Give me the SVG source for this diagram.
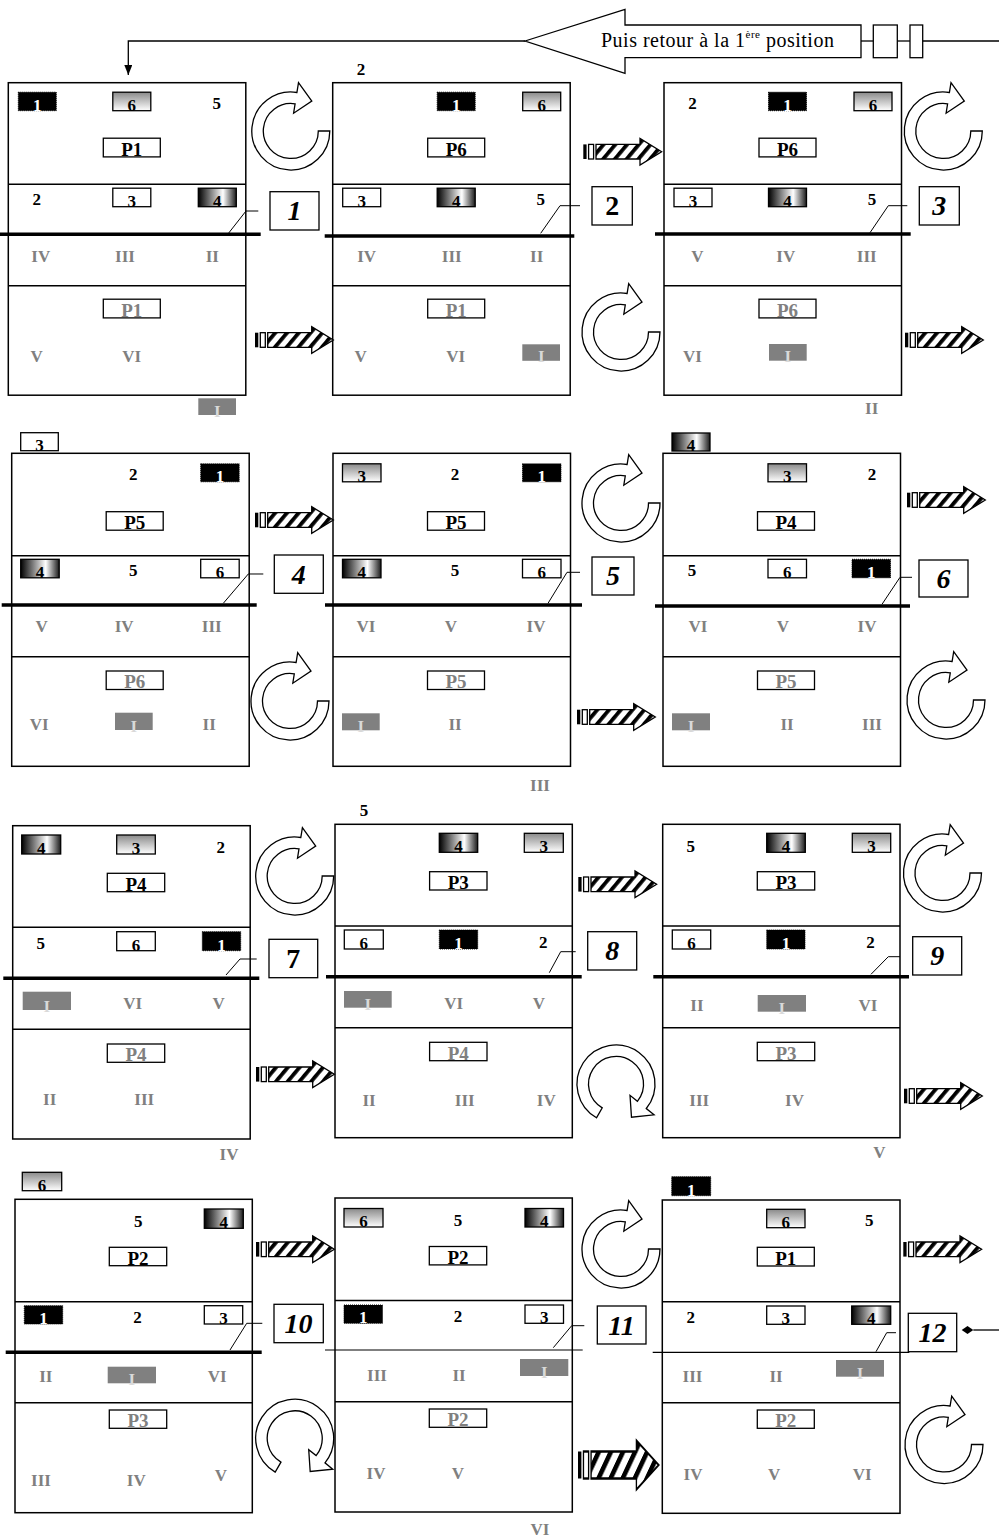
<svg xmlns="http://www.w3.org/2000/svg" width="999" height="1539" viewBox="0 0 999 1539">
<defs>
<linearGradient id="gv" x1="0" y1="0" x2="0" y2="1"><stop offset="0" stop-color="#8a8a8a"/><stop offset="1" stop-color="#fff"/></linearGradient>
<linearGradient id="gh" x1="0" y1="0" x2="1" y2="0"><stop offset="0" stop-color="#000"/><stop offset="0.65" stop-color="#fff"/><stop offset="1" stop-color="#1a1a1a"/></linearGradient>
<pattern id="hatch" patternUnits="userSpaceOnUse" width="9" height="9" patternTransform="rotate(40)"><rect width="9" height="9" fill="#fff"/><rect width="3.8" height="9" fill="#000"/></pattern>
<marker id="ah" markerWidth="10" markerHeight="10" refX="10" refY="4" orient="auto" markerUnits="userSpaceOnUse"><path d="M0,0 L10,4 L0,8 Z" fill="#000"/></marker>
<g id="ha">
<rect x="0" y="-7.3" width="3.3" height="14.6" fill="#000"/>
<rect x="5.3" y="-7.3" width="5" height="14.6" fill="#fff" stroke="#000" stroke-width="1.3"/>
<polygon points="12.7,-7.3 56.7,-7.3 56.7,-13.3 78.3,0 56.7,13.3 56.7,7.3 12.7,7.3" fill="url(#hatch)" stroke="#000" stroke-width="1.3"/>
</g>
<path id="rot" d="M39,0 A39,39 0 1 1 6.1,-38.5 L7.7,-48.4 L21,-30 L2.8,-17.8 L4.3,-27.2 A27.5,27.5 0 1 0 27.5,0 Z" fill="#fff" stroke="#000" stroke-width="1.3"/>
</defs>
<style>
.pn{fill:none;stroke:#000;stroke-width:1.5}
.dv{stroke:#000;stroke-width:1.5}
.th{stroke:#000;stroke-width:3.5}
.tn{stroke:#000;stroke-width:1.2}
.ld{fill:none;stroke:#000;stroke-width:1}
.cb{fill:#fff;stroke:#000;stroke-width:1.3}
.cn{font-family:"Liberation Serif","Times New Roman",serif;font-size:28px;font-style:italic;font-weight:bold;text-anchor:middle;fill:#000}
.cu{font-style:normal}
.bw{fill:#fff;stroke:#000;stroke-width:1.3}
.bk{fill:#000;stroke:#000;stroke-width:1;stroke-dasharray:1 1}
.bv{fill:url(#gv);stroke:#000;stroke-width:1.3}
.bh{fill:url(#gh);stroke:#000;stroke-width:1.3}
.bg{fill:#808080}
.t{font-family:"Liberation Serif","Times New Roman",serif;font-weight:bold;font-size:17px;text-anchor:middle;fill:#000}
.d{font-size:17px}
.p{font-size:19px}
.r{font-size:17px;fill:#808080}
.tg{fill:#808080}
.tw{fill:#fff}
.tl{fill:#d9d9d9;font-size:17px}
</style>
<rect width="999" height="1539" fill="#fff"/>

<g id="return-note">
<polygon points="525,41 625,9.3 625,25 861,25 861,57.7 625,57.7 625,73.3" fill="#fff" stroke="#000" stroke-width="1.3"/>
<text x="601" y="47" font-family="Liberation Serif, Times New Roman, serif" font-size="20" letter-spacing="0.5" fill="#000">Puis retour à la 1<tspan font-size="11" dy="-9">ère</tspan><tspan dy="9"> position</tspan></text>
</g>

<!-- Panel 1 -->
<g id="p1" transform="translate(8.3,82.7)">
<rect class="pn" width="237.5" height="312.5"/>
<line class="dv" x1="0" y1="101.5" x2="237.5" y2="101.5"/>
<line class="dv" x1="0" y1="203" x2="237.5" y2="203"/>
<rect class="bk" x="10" y="9.5" width="38" height="18.5"/><text class="t d tw" x="29" y="28">1</text>
<rect class="bv" x="104.5" y="9.5" width="38" height="18.5"/><text class="t d" x="123.5" y="28">6</text>
<text class="t" x="208.5" y="26.5">5</text>
<rect class="bw" x="95" y="55.5" width="57" height="18.7"/><text class="t p" x="123.5" y="73.2">P1</text>
<text class="t" x="28.5" y="122.5">2</text>
<rect class="bw" x="104.5" y="105.5" width="38" height="18.5"/><text class="t d" x="123.5" y="124">3</text>
<rect class="bh" x="190" y="105.5" width="38" height="18.5"/><text class="t d" x="209" y="124">4</text>
<line class="th" x1="-8.3" y1="151.6" x2="252.4" y2="151.6"/>
<text class="t r" x="32.5" y="179">IV</text><text class="t r" x="116.7" y="179">III</text><text class="t r" x="204" y="179">II</text>
<rect class="bw" x="95" y="216.5" width="57" height="18.7"/><text class="t p tg" x="123.5" y="234.2">P1</text>
<text class="t r" x="28.4" y="279">V</text><text class="t r" x="123.4" y="279">VI</text>
<polyline class="ld" points="219.4,151.6 237.7,128.3 250,128.3"/>
<rect class="cb" x="261.7" y="109" width="49" height="38.3"/><text class="cn" x="286.2" y="137.5">1</text>
</g>

<!-- Panel 2 -->
<g id="p2" transform="translate(332.7,82.7)">
<rect class="pn" width="237.5" height="312.5"/>
<line class="dv" x1="0" y1="101.5" x2="237.5" y2="101.5"/>
<line class="dv" x1="0" y1="203" x2="237.5" y2="203"/>
<rect class="bk" x="104.5" y="9.5" width="38" height="18.5"/><text class="t d tw" x="123.5" y="28">1</text>
<rect class="bv" x="190" y="9.5" width="38" height="18.5"/><text class="t d" x="209" y="28">6</text>
<rect class="bw" x="95" y="55.5" width="57" height="18.7"/><text class="t p" x="123.5" y="73.2">P6</text>
<rect class="bw" x="10" y="105.5" width="38" height="18.5"/><text class="t d" x="29" y="124">3</text>
<rect class="bh" x="104.5" y="105.5" width="38" height="18.5"/><text class="t d" x="123.5" y="124">4</text>
<text class="t" x="208" y="122.5">5</text>
<line class="th" x1="-8" y1="153.3" x2="241.6" y2="153.3"/>
<text class="t r" x="34" y="179">IV</text><text class="t r" x="119" y="179">III</text><text class="t r" x="204" y="179">II</text>
<rect class="bw" x="95" y="216.5" width="57" height="18.7"/><text class="t p tg" x="123.5" y="234.2">P1</text>
<text class="t r" x="28" y="279">V</text><text class="t r" x="123" y="279">VI</text>
<rect class="bg" x="189.6" y="261.6" width="37.7" height="16.5"/><text class="t tl" x="208.5" y="279.5">I</text>
<polyline class="ld" points="208,150.6 227.3,123 247.3,123"/>
<rect class="cb" x="259.3" y="104" width="40.3" height="38.3"/><text class="cn cu" x="279.5" y="132.5">2</text>
</g>

<!-- Panel 3 -->
<g id="p3" transform="translate(664,82.7)">
<rect class="pn" width="237.5" height="312.5"/>
<line class="dv" x1="0" y1="101.5" x2="237.5" y2="101.5"/>
<line class="dv" x1="0" y1="203" x2="237.5" y2="203"/>
<text class="t" x="28.5" y="26.5">2</text>
<rect class="bk" x="104.5" y="9.5" width="38" height="18.5"/><text class="t d tw" x="123.5" y="28">1</text>
<rect class="bv" x="190" y="9.5" width="38" height="18.5"/><text class="t d" x="209" y="28">6</text>
<rect class="bw" x="95" y="55.5" width="57" height="18.7"/><text class="t p" x="123.5" y="73.2">P6</text>
<rect class="bw" x="10" y="105.5" width="38" height="18.5"/><text class="t d" x="29" y="124">3</text>
<rect class="bh" x="104.5" y="105.5" width="38" height="18.5"/><text class="t d" x="123.5" y="124">4</text>
<text class="t" x="208" y="122.5">5</text>
<line class="th" x1="-9" y1="151.3" x2="246.7" y2="151.3"/>
<text class="t r" x="33.5" y="179">V</text><text class="t r" x="121.8" y="179">IV</text><text class="t r" x="202.7" y="179">III</text>
<rect class="bw" x="95" y="216.5" width="57" height="18.7"/><text class="t p tg" x="123.5" y="234.2">P6</text>
<text class="t r" x="28.5" y="279">VI</text>
<rect class="bg" x="105" y="261.3" width="37.7" height="16.7"/><text class="t tl" x="123.8" y="279.5">I</text>
<polyline class="ld" points="206,150 224.3,123 243.3,123"/>
<rect class="cb" x="255.3" y="104" width="40" height="38.3"/><text class="cn" x="275.3" y="132.5">3</text>
</g>

<!-- Panel 4 -->
<g id="p4" transform="translate(11.7,453.3)">
<rect class="pn" width="237.5" height="313"/>
<line class="dv" x1="0" y1="102.4" x2="237.5" y2="102.4"/>
<line class="dv" x1="0" y1="203.4" x2="237.5" y2="203.4"/>
<text class="t" x="121.6" y="26.7">2</text>
<rect class="bk" x="189" y="10.5" width="38.5" height="18"/><text class="t d tw" x="208.2" y="28.5">1</text>
<rect class="bw" x="94.5" y="58.4" width="57" height="18.5"/><text class="t p" x="123" y="75.9">P5</text>
<rect class="bh" x="9" y="106" width="38.5" height="18.5"/><text class="t d" x="28.2" y="124.5">4</text>
<text class="t" x="121.6" y="123">5</text>
<rect class="bw" x="189" y="106" width="38.5" height="18.5"/><text class="t d" x="208.2" y="124.5">6</text>
<line class="th" x1="-10" y1="151.7" x2="245" y2="151.7"/>
<text class="t r" x="30" y="179">V</text><text class="t r" x="112.5" y="179">IV</text><text class="t r" x="200" y="179">III</text>
<rect class="bw" x="94.5" y="217.7" width="57" height="18.5"/><text class="t p tg" x="123" y="235.2">P6</text>
<text class="t r" x="27.5" y="276.7">VI</text>
<rect class="bg" x="103.3" y="259.4" width="37.7" height="17.3"/><text class="t tl" x="122.2" y="278.5">I</text>
<text class="t r" x="197.5" y="276.7">II</text>
<polyline class="ld" points="211.6,150 236.6,120.7 251.6,120.7"/>
<rect class="cb" x="262.6" y="101.7" width="49" height="38.3"/><text class="cn" x="287.1" y="130.3">4</text>
</g>

<!-- Panel 5 -->
<g id="p5" transform="translate(333,453.3)">
<rect class="pn" width="237.5" height="313"/>
<line class="dv" x1="0" y1="102.4" x2="237.5" y2="102.4"/>
<line class="dv" x1="0" y1="203.4" x2="237.5" y2="203.4"/>
<rect class="bv" x="9.5" y="10.5" width="38.5" height="18"/><text class="t d" x="28.7" y="28.5">3</text>
<text class="t" x="122" y="26.7">2</text>
<rect class="bk" x="189.5" y="10.5" width="38.5" height="18"/><text class="t d tw" x="208.7" y="28.5">1</text>
<rect class="bw" x="94.5" y="58.4" width="57" height="18.5"/><text class="t p" x="123" y="75.9">P5</text>
<rect class="bh" x="9.5" y="106" width="38.5" height="18.5"/><text class="t d" x="28.7" y="124.5">4</text>
<text class="t" x="122" y="123">5</text>
<rect class="bw" x="189.5" y="106" width="38.5" height="18.5"/><text class="t d" x="208.7" y="124.5">6</text>
<line class="th" x1="-8" y1="151.7" x2="249" y2="151.7"/>
<text class="t r" x="33" y="179">VI</text><text class="t r" x="118" y="179">V</text><text class="t r" x="203" y="179">IV</text>
<rect class="bw" x="94.5" y="217.7" width="57" height="18.5"/><text class="t p tg" x="123" y="235.2">P5</text>
<rect class="bg" x="9" y="260" width="37.7" height="17"/><text class="t tl" x="27.9" y="279">I</text>
<text class="t r" x="122" y="277">II</text>
<polyline class="ld" points="215,150 234,119 247,119"/>
<rect class="cb" x="259" y="103.7" width="42" height="38"/><text class="cn" x="280" y="132.2">5</text>
</g>

<!-- Panel 6 -->
<g id="p6" transform="translate(663,453.3)">
<rect class="pn" width="237.5" height="313"/>
<line class="dv" x1="0" y1="102.4" x2="237.5" y2="102.4"/>
<line class="dv" x1="0" y1="203.4" x2="237.5" y2="203.4"/>
<rect class="bv" x="105" y="10.5" width="38.5" height="18"/><text class="t d" x="124.2" y="28.5">3</text>
<text class="t" x="209" y="26.7">2</text>
<rect class="bw" x="94.5" y="58.4" width="57" height="18.5"/><text class="t p" x="123" y="75.9">P4</text>
<text class="t" x="29" y="123">5</text>
<rect class="bw" x="105" y="106" width="38.5" height="18.5"/><text class="t d" x="124.2" y="124.5">6</text>
<rect class="bk" x="189" y="106" width="38.5" height="18.5"/><text class="t d tw" x="208.2" y="124.5">1</text>
<line class="th" x1="-8" y1="152.7" x2="247" y2="152.7"/>
<text class="t r" x="35" y="179">VI</text><text class="t r" x="120" y="179">V</text><text class="t r" x="204" y="179">IV</text>
<rect class="bw" x="94.5" y="217.7" width="57" height="18.5"/><text class="t p tg" x="123" y="235.2">P5</text>
<rect class="bg" x="9" y="260" width="38" height="17"/><text class="t tl" x="28" y="279">I</text>
<text class="t r" x="124" y="277">II</text><text class="t r" x="209" y="277">III</text>
<polyline class="ld" points="219,151 237,124 249,124"/>
<rect class="cb" x="256" y="106.7" width="49" height="37"/><text class="cn" x="280.5" y="134.7">6</text>
</g>

<!-- Panel 7 -->
<g id="p7" transform="translate(12.7,825.7)">
<rect class="pn" width="237.5" height="313.3"/>
<line class="dv" x1="0" y1="101.6" x2="237.5" y2="101.6"/>
<line class="dv" x1="0" y1="203.6" x2="237.5" y2="203.6"/>
<rect class="bh" x="9" y="9.3" width="39" height="19"/><text class="t d" x="28.5" y="28.3">4</text>
<rect class="bv" x="104" y="9.3" width="38.6" height="19"/><text class="t d" x="123.3" y="28.3">3</text>
<text class="t" x="208" y="27.6">2</text>
<rect class="bw" x="94.6" y="47.6" width="57.4" height="18.4"/><text class="t p" x="123.3" y="65">P4</text>
<text class="t" x="28.1" y="123.5">5</text>
<rect class="bw" x="104" y="106" width="38.6" height="19"/><text class="t d" x="123.3" y="125">6</text>
<rect class="bk" x="189.6" y="106" width="38.4" height="19"/><text class="t d tw" x="208.8" y="125">1</text>
<line class="th" x1="-9.4" y1="152.6" x2="246.6" y2="152.6"/>
<rect class="bg" x="10" y="166" width="48.3" height="18.3"/><text class="t tl" x="34.2" y="186">I</text>
<text class="t r" x="120" y="183.6">VI</text><text class="t r" x="206" y="183.6">V</text>
<rect class="bw" x="94.6" y="218.3" width="57.4" height="18.3"/><text class="t p tg" x="123.3" y="235.6">P4</text>
<text class="t r" x="37" y="279.3">II</text><text class="t r" x="131.5" y="279.3">III</text>
<polyline class="ld" points="213.3,149.3 227.3,133.3 244,133.3"/>
<rect class="cb" x="256.3" y="113.6" width="48.7" height="38.4"/><text class="cn cu" x="280.6" y="142.3">7</text>
</g>

<!-- Panel 8 -->
<g id="p8" transform="translate(335,824.3)">
<rect class="pn" width="237.3" height="313.4"/>
<line class="dv" x1="0" y1="101.7" x2="237.3" y2="101.7"/>
<line class="dv" x1="0" y1="203.4" x2="237.3" y2="203.4"/>
<rect class="bh" x="104.3" y="9" width="38.4" height="19"/><text class="t d" x="123.5" y="28">4</text>
<rect class="bv" x="189.3" y="9" width="39" height="19"/><text class="t d" x="208.8" y="28">3</text>
<rect class="bw" x="94.6" y="47.4" width="57.4" height="18.3"/><text class="t p" x="123.3" y="64.7">P3</text>
<rect class="bw" x="9.3" y="105.7" width="39" height="19"/><text class="t d" x="28.8" y="124.7">6</text>
<rect class="bk" x="104.3" y="105.7" width="38.4" height="19"/><text class="t d tw" x="123.5" y="124.7">1</text>
<text class="t" x="208.3" y="123.4">2</text>
<line class="th" x1="-9" y1="152.4" x2="246.7" y2="152.4"/>
<rect class="bg" x="9" y="166.7" width="47.7" height="16.7"/><text class="t tl" x="32.8" y="185.5">I</text>
<text class="t r" x="118.7" y="185">VI</text><text class="t r" x="204" y="185">V</text>
<rect class="bw" x="94.6" y="218" width="57.4" height="18.4"/><text class="t p tg" x="123.3" y="235.4">P4</text>
<text class="t r" x="34" y="281.5">II</text><text class="t r" x="129.8" y="281.5">III</text><text class="t r" x="211.3" y="281.5">IV</text>
<polyline class="ld" points="214.3,148.4 225.7,127.4 240.7,127.4"/>
<rect class="cb" x="252.7" y="107.4" width="49" height="38.3"/><text class="cn" x="277.2" y="136">8</text>
</g>

<!-- Panel 9 -->
<g id="p9" transform="translate(662.7,824.3)">
<rect class="pn" width="237.3" height="313.4"/>
<line class="dv" x1="0" y1="101.7" x2="237.3" y2="101.7"/>
<line class="dv" x1="0" y1="203.4" x2="237.3" y2="203.4"/>
<text class="t" x="28.1" y="27.4">5</text>
<rect class="bh" x="104" y="9" width="38.6" height="19"/><text class="t d" x="123.3" y="28">4</text>
<rect class="bv" x="189.6" y="9" width="38.4" height="19"/><text class="t d" x="208.8" y="28">3</text>
<rect class="bw" x="94.6" y="47.4" width="57.4" height="18.3"/><text class="t p" x="123.3" y="64.7">P3</text>
<rect class="bw" x="9.6" y="105.7" width="38.4" height="19"/><text class="t d" x="28.8" y="124.7">6</text>
<rect class="bk" x="104" y="105.7" width="38.3" height="19"/><text class="t d tw" x="123.2" y="124.7">1</text>
<text class="t" x="207.8" y="123.4">2</text>
<line class="th" x1="-9.4" y1="152.4" x2="246.3" y2="152.4"/>
<text class="t r" x="34.3" y="186.4">II</text>
<rect class="bg" x="95" y="170.7" width="48.3" height="16.7"/><text class="t tl" x="119.2" y="189.5">I</text>
<text class="t r" x="205.3" y="186.4">VI</text>
<rect class="bw" x="94.6" y="218" width="57.4" height="18.4"/><text class="t p tg" x="123.3" y="235.4">P3</text>
<text class="t r" x="36.5" y="281.7">III</text><text class="t r" x="131.8" y="281.7">IV</text>
<polyline class="ld" points="208.3,150 225.6,132.4 237.3,132.4"/>
<rect class="cb" x="250" y="112.4" width="49" height="38.3"/><text class="cn" x="274.5" y="141">9</text>
</g>

<!-- Panel 10 -->
<g id="p10" transform="translate(15,1199.3)">
<rect class="pn" width="237.3" height="313.4"/>
<line class="dv" x1="0" y1="102.4" x2="237.3" y2="102.4"/>
<line class="dv" x1="0" y1="203.4" x2="237.3" y2="203.4"/>
<text class="t" x="123.3" y="27.4">5</text>
<rect class="bh" x="189.3" y="9.7" width="39" height="19.3"/><text class="t d" x="208.8" y="29">4</text>
<rect class="bw" x="94.3" y="48" width="57.4" height="18.4"/><text class="t p" x="123" y="65.4">P2</text>
<rect class="bk" x="9.3" y="106.4" width="38.4" height="18.3"/><text class="t d tw" x="28.5" y="124.7">1</text>
<text class="t" x="122.5" y="124">2</text>
<rect class="bw" x="189.3" y="106.4" width="38.4" height="18.3"/><text class="t d" x="208.5" y="124.7">3</text>
<line class="th" x1="-9.3" y1="153" x2="246.7" y2="153"/>
<text class="t r" x="30.8" y="182.4">II</text>
<rect class="bg" x="92.7" y="167.4" width="48.3" height="16.6"/><text class="t tl" x="116.8" y="186">I</text>
<text class="t r" x="202.2" y="182.4">VI</text>
<rect class="bw" x="94.3" y="210.7" width="57.4" height="18.3"/><text class="t p tg" x="123" y="228">P3</text>
<text class="t r" x="26" y="287">III</text><text class="t r" x="121.3" y="287">IV</text><text class="t r" x="205.8" y="282">V</text>
<polyline class="ld" points="215,150.7 231.7,124 247.3,124"/>
<rect class="cb" x="259" y="105" width="49.3" height="38.4"/><text class="cn" x="283.6" y="133.8">10</text>
</g>

<!-- Panel 11 -->
<g id="p11" transform="translate(335,1198)">
<rect class="pn" width="237.3" height="314"/>
<line class="dv" x1="0" y1="102.4" x2="237.3" y2="102.4"/>
<line class="dv" x1="0" y1="203.7" x2="237.3" y2="203.7"/>
<rect class="bv" x="9" y="10.5" width="39" height="18.5"/><text class="t d" x="28.5" y="29">6</text>
<text class="t" x="123" y="27.5">5</text>
<rect class="bh" x="190" y="10.5" width="38.5" height="18.5"/><text class="t d" x="209.2" y="29">4</text>
<rect class="bw" x="94.3" y="48.5" width="57.4" height="18.4"/><text class="t p" x="123" y="65.9">P2</text>
<rect class="bk" x="9" y="107" width="38.5" height="18.3"/><text class="t d tw" x="28.2" y="125.3">1</text>
<text class="t" x="123" y="124">2</text>
<rect class="bw" x="190" y="107" width="38.5" height="18.3"/><text class="t d" x="209.2" y="125.3">3</text>
<line class="tn" x1="-10" y1="152" x2="247.7" y2="152"/>
<text class="t r" x="42" y="183">III</text><text class="t r" x="124" y="183">II</text>
<rect class="bg" x="185" y="161" width="48.3" height="17"/><text class="t tl" x="209.2" y="180">I</text>
<rect class="bw" x="94.3" y="211" width="57.4" height="18.3"/><text class="t p tg" x="123" y="228.3">P2</text>
<text class="t r" x="41" y="281">IV</text><text class="t r" x="123" y="281">V</text>
<polyline class="ld" points="218.3,149.7 236.7,127.7 249.3,127.7"/>
<rect class="cb" x="262.3" y="108" width="48.7" height="38"/><text class="cn" x="286.6" y="136.5">11</text>
</g>

<!-- Panel 12 -->
<g id="p12" transform="translate(662.3,1200)">
<rect class="pn" width="237.7" height="313.3"/>
<line class="dv" x1="0" y1="101.7" x2="237.7" y2="101.7"/>
<line class="dv" x1="0" y1="202.7" x2="237.7" y2="202.7"/>
<rect class="bv" x="104.4" y="9.3" width="38.3" height="18.4"/><text class="t d" x="123.5" y="27.7">6</text>
<text class="t" x="206.9" y="26">5</text>
<rect class="bw" x="95" y="47.3" width="57" height="18.7"/><text class="t p" x="123.5" y="65">P1</text>
<text class="t" x="28.5" y="123.3">2</text>
<rect class="bw" x="104.4" y="106" width="38.3" height="18.3"/><text class="t d" x="123.5" y="124.3">3</text>
<rect class="bh" x="189.4" y="106" width="39" height="18.3"/><text class="t d" x="208.9" y="124.3">4</text>
<line class="tn" x1="-9.6" y1="152.3" x2="247" y2="152.3"/>
<text class="t r" x="30.2" y="181.7">III</text><text class="t r" x="113.7" y="181.7">II</text>
<rect class="bg" x="173.7" y="160" width="48" height="16.7"/><text class="t tl" x="197.7" y="179">I</text>
<rect class="bw" x="95" y="210" width="57" height="18.3"/><text class="t p tg" x="123.5" y="227.3">P2</text>
<text class="t r" x="30.7" y="280">IV</text><text class="t r" x="111.8" y="280">V</text><text class="t r" x="200" y="280">VI</text>
<polyline class="ld" points="213.7,151.7 224.4,132.7 233.7,132.7"/>
<rect class="cb" x="246" y="113.3" width="48.4" height="38.4"/><text class="cn" x="270.2" y="142">12</text>
</g>

<!-- labels outside the panels -->
<g id="outside-labels">
<rect class="bg" x="198.3" y="398.3" width="37.7" height="16.7"/><text class="t tl" x="217.2" y="417">I</text>
<text class="t" x="361" y="75">2</text>
<text class="t r" x="871.7" y="413.5">II</text>
<rect class="bw" x="20.7" y="432.7" width="37.6" height="18"/><text class="t d" x="39.5" y="450.7">3</text>
<text class="t r" x="540" y="791">III</text>
<rect class="bh" x="672" y="433" width="38" height="18"/><text class="t d" x="691" y="451">4</text>
<text class="t r" x="229" y="1160">IV</text>
<text class="t" x="364" y="816">5</text>
<text class="t r" x="879.3" y="1158">V</text>
<rect class="bv" x="22.3" y="1172.3" width="39.4" height="18.4"/><text class="t d" x="42" y="1190.7">6</text>
<text class="t r" x="540" y="1535">VI</text>
<rect class="bk" x="671.7" y="1176.7" width="39" height="19"/><text class="t d tw" x="691.2" y="1195.7">1</text>
</g>

<g id="connectors">
<polyline points="525,41 128.3,41 128.3,75" fill="none" stroke="#000" stroke-width="1.3" marker-end="url(#ah)"/>
<line x1="861" y1="41" x2="873.3" y2="41" stroke="#000" stroke-width="1.3"/>
<rect x="873.3" y="25" width="24" height="32.7" fill="#fff" stroke="#000" stroke-width="1.3"/>
<line x1="897.3" y1="41" x2="910" y2="41" stroke="#000" stroke-width="1.3"/>
<rect x="910" y="25" width="12.7" height="32.7" fill="#fff" stroke="#000" stroke-width="1.3"/>
<line x1="922.7" y1="41" x2="999" y2="41" stroke="#000" stroke-width="1.3"/>
<polygon points="961.7,1330 967.5,1326 973.3,1330 967.5,1334" fill="#000"/>
<line x1="973.3" y1="1330" x2="999" y2="1330" stroke="#000" stroke-width="1.3"/>

<use href="#ha" transform="translate(255,340)"/>
<use href="#ha" transform="translate(583.3,151.7)"/>
<use href="#ha" transform="translate(905,340)"/>
<use href="#ha" transform="translate(255,520)"/>
<use href="#ha" transform="translate(577,717)"/>
<use href="#ha" transform="translate(907,500)"/>
<use href="#ha" transform="translate(578.3,884.3)"/>
<use href="#ha" transform="translate(904,1096)"/>
<use href="#ha" transform="translate(256,1074.3)"/>
<use href="#ha" transform="translate(256,1249.3)"/>
<use href="#ha" transform="translate(578,1465) scale(1.03,1.85)"/>
<use href="#ha" transform="translate(903.3,1249.3)"/>

<use href="#rot" transform="translate(290.8,131)"/>
<use href="#rot" transform="translate(621,332)"/>
<use href="#rot" transform="translate(943.3,131)"/>
<use href="#rot" transform="translate(621,503)"/>
<use href="#rot" transform="translate(290,701)"/>
<use href="#rot" transform="translate(946,700)"/>
<use href="#rot" transform="translate(294.7,876)"/>
<use href="#rot" transform="translate(942.5,873)"/>
<use href="#rot" transform="translate(616,1084) rotate(120)"/>
<use href="#rot" transform="translate(621,1249)"/>
<use href="#rot" transform="translate(294.7,1438.3) rotate(120)"/>
<use href="#rot" transform="translate(944,1444.5)"/>
</g>
</svg>
